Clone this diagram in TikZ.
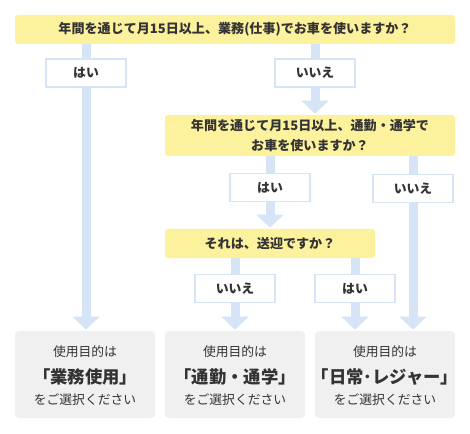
\documentclass[tikz,border=0pt]{standalone}
\usepackage{fontspec}
\setmainfont{Noto Sans CJK JP}
\usetikzlibrary{arrows.meta}
\definecolor{qyellow}{RGB}{252,241,156}
\definecolor{barblue}{RGB}{213,228,246}
\definecolor{rgray}{RGB}{240,240,240}
\definecolor{txt}{RGB}{51,51,51}
\pgfdeclarelayer{bg}
\pgfsetlayers{bg,main}
\begin{document}
\begin{tikzpicture}[x=0.75pt,y=-0.75pt,
  question/.style={fill=qyellow, rounded corners=2.25pt, inner sep=0pt, text=txt, align=center,
    font=\fontsize{9.8}{14.5}\selectfont\bfseries},
  answer/.style={fill=white, draw=barblue, line width=1.3pt, minimum width=60pt, minimum height=21pt,
    inner sep=0pt, text=txt, font=\fontsize{9.6}{12}\selectfont\bfseries},
  result/.style={fill=rgray, rounded corners=3pt, minimum width=105pt, minimum height=65.25pt, inner sep=0pt},
  rsmall/.style={text=txt, inner sep=0pt, font=\fontsize{9.6}{12}\selectfont},
  rbig/.style={text=txt, inner sep=0pt, font=\fontsize{13}{16}\selectfont\bfseries},
  flow/.style={draw=barblue, line width=6.75pt, -{Triangle[width=19.5pt,length=9.75pt]}, shorten >=0.75pt}]
\useasboundingbox (0,0) rectangle (470,434);
% questions
\node[question, minimum width=330pt, minimum height=21.75pt] (q1) at (235,29.5)
  {年間を通じて月15日以上、業務(仕事)でお車を使いますか？};
\node[question, minimum width=217.5pt, minimum height=30.75pt] (q2) at (310,135.5)
  {年間を通じて月15日以上、通勤・通学で\\お車を使いますか？};
\node[question, minimum width=157.5pt, minimum height=21.75pt] (q3) at (270,243.5)
  {それは、送迎ですか？};
% results
\node[result] (r1) at (85,374.5) {};
\node[result] (r2) at (235,374.5) {};
\node[result] (r3) at (385,374.5) {};
\node[rsmall] (r1a) at (85,352) {使用目的は};
\node[rbig]   (r1b) at (85,377) {「業務使用」};
\node[rsmall] (r1c) at (85,400) {をご選択ください};
\node[rsmall] (r2a) at (235,352) {使用目的は};
\node[rbig]   (r2b) at (235,377) {「通勤・通学」};
\node[rsmall] (r2c) at (235,400) {をご選択ください};
\node[rsmall] (r3a) at (385,352) {使用目的は};
\node[rbig]   (r3b) at (385,377) {「日常･レジャー」};
\node[rsmall] (r3c) at (385,400) {をご選択ください};
% answers
\node[answer] (a1) at (86,73) {はい};
\node[answer] (a2) at (315,73) {いいえ};
\node[answer] (a3) at (270,187.5) {はい};
\node[answer] (a4) at (413,188.5) {いいえ};
\node[answer] (a5) at (235,288.5) {いいえ};
\node[answer] (a6) at (355,288.5) {はい};
% connectors
\begin{pgfonlayer}{bg}
\fill[white] (0,0) rectangle (470,434);
\draw[flow] (a1 |- q1.south) -- (a1 |- r1.north);
\draw[flow] (a2 |- q1.south) -- (a2 |- q2.north);
\draw[flow] (a3 |- q2.south) -- (a3 |- q3.north);
\draw[flow] (a4 |- q2.south) -- (a4 |- r3.north);
\draw[flow] (a5 |- q3.south) -- (a5 |- r2.north);
\draw[flow] (a6 |- q3.south) -- (a6 |- r3.north);
\end{pgfonlayer}
\end{tikzpicture}
\end{document}
